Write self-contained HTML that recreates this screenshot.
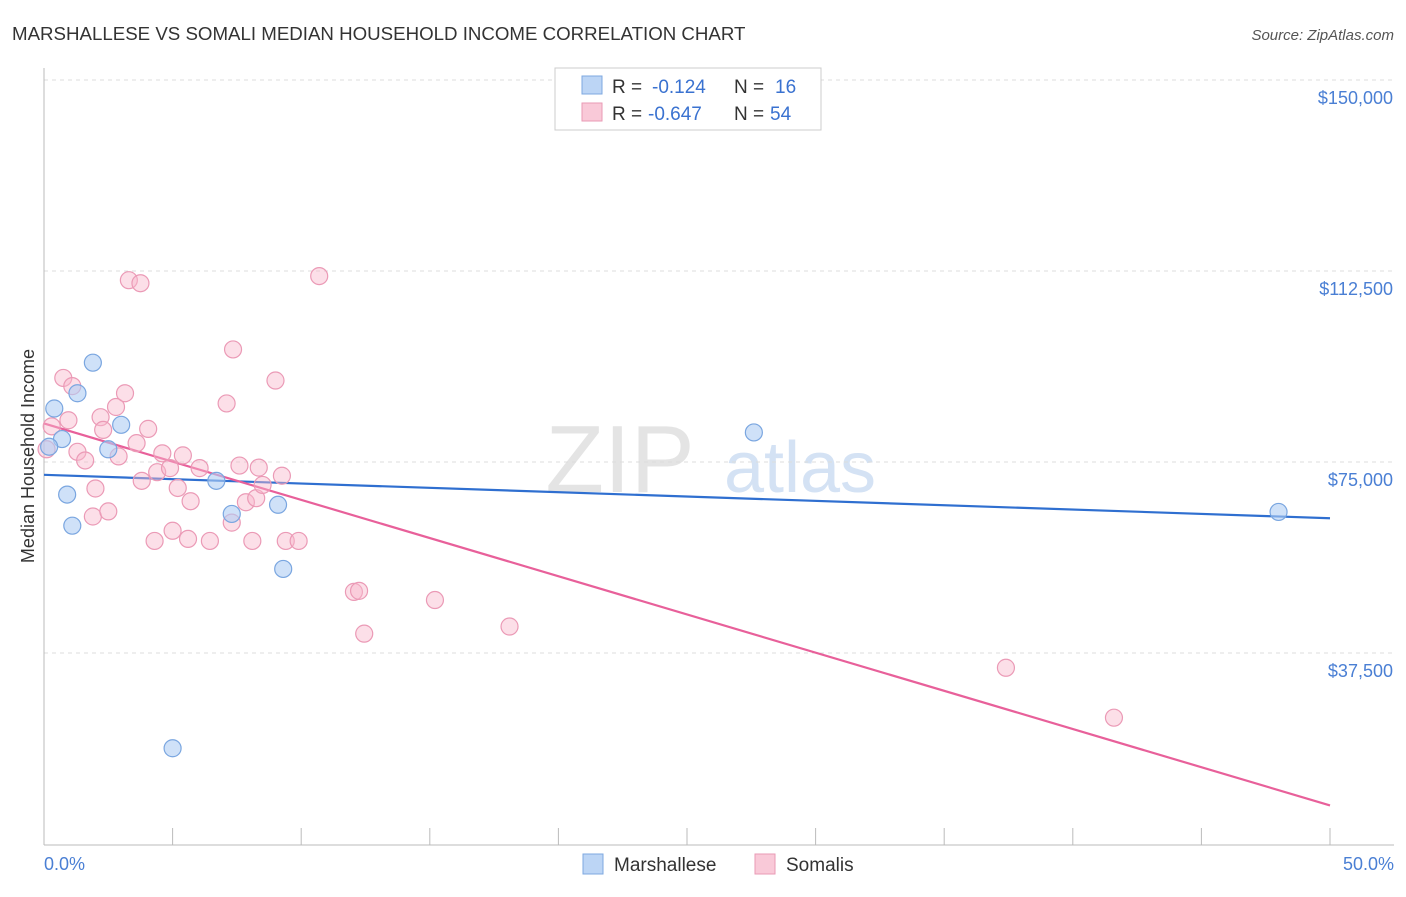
<!DOCTYPE html>
<html><head><meta charset="utf-8"><style>
body{margin:0;background:#fff;font-family:"Liberation Sans",sans-serif;}
svg text{font-family:"Liberation Sans",sans-serif;}
</style></head><body>
<svg id="chart" width="1406" height="892">
<text x="12" y="40" font-size="18.7" fill="#333">MARSHALLESE VS SOMALI MEDIAN HOUSEHOLD INCOME CORRELATION CHART</text>
<text x="1394" y="40" font-size="15" fill="#555" text-anchor="end" font-style="italic">Source: ZipAtlas.com</text>
<text x="620" y="492" font-size="96" fill="#e4e4e4" font-family="Liberation Serif" text-anchor="middle">ZIP</text>
<text x="800" y="492" font-size="72" fill="#d4e2f4" text-anchor="middle">atlas</text>
<g id="grid"></g><g id="axes"></g><g id="lines"></g><g id="pts"></g>
<text transform="translate(34,456) rotate(-90)" font-size="18" fill="#333" text-anchor="middle">Median Household Income</text>
<text x="44" y="870" font-size="18" fill="#4a7fd4">0.0%</text>
<text x="1394" y="870" font-size="18" fill="#4a7fd4" text-anchor="end">50.0%</text>
<g>
<rect x="555" y="68" width="266" height="62" fill="#fff" stroke="#ccc"/>
<rect x="582" y="76" width="20" height="18" fill="#bcd5f5" stroke="#7ea8e0"/>
<text x="612" y="93" font-size="19" fill="#333">R =</text><text x="652" y="93" font-size="19" fill="#3a72d0">-0.124</text>
<text x="734" y="93" font-size="19" fill="#333">N =</text><text x="775" y="93" font-size="19" fill="#3a72d0">16</text>
<rect x="582" y="103" width="20" height="18" fill="#f9c9d8" stroke="#e99ab5"/>
<text x="612" y="120" font-size="19" fill="#333">R =</text><text x="648" y="120" font-size="19" fill="#3a72d0">-0.647</text>
<text x="734" y="120" font-size="19" fill="#333">N =</text><text x="770" y="120" font-size="19" fill="#3a72d0">54</text>
</g>
<g>
<rect x="583" y="854" width="20" height="20" fill="#bcd5f5" stroke="#7ea8e0"/>
<text x="614" y="871" font-size="19" fill="#333">Marshallese</text>
<rect x="755" y="854" width="20" height="20" fill="#f9c9d8" stroke="#e99ab5"/>
<text x="786" y="871" font-size="19" fill="#333">Somalis</text>
</g>
</svg>
<script>
const yTicks=[37500,75000,112500,150000];
const yTickLabels=["$37,500","$75,000","$112,500","$150,000"];
const xTicks=[0,5,10,15,20,25,30,35,40,45,50];
const blueX=[0.4,1.9,1.3,0.7,0.2,3.0,2.5,0.9,1.1,6.7,7.3,9.1,9.3,5.0,27.6,48.0];
const blueY=[85500,94500,88500,79500,78000,82300,77500,68600,62500,71300,64800,66600,54000,18800,80800,65200];
const pinkX=[0.3,0.1,0.75,1.1,0.95,1.3,1.6,2.0,1.9,2.5,2.2,2.3,2.8,3.15,2.9,3.6,3.3,3.75,4.05,3.8,4.4,4.6,4.9,5.2,5.4,4.3,5.0,5.6,5.7,6.05,6.45,7.1,7.35,7.6,7.3,7.85,8.1,8.25,8.35,8.5,9.0,9.25,9.4,9.9,10.7,12.05,12.25,12.45,15.2,18.1,37.4,41.6];
const pinkY=[82000,77500,91500,89900,83200,77000,75300,69800,64300,65300,83800,81300,85800,88500,76100,78700,110700,110100,81500,71300,73000,76700,73800,69900,76300,59500,61500,59900,67300,73800,59500,86500,97100,74300,63100,67100,59500,67900,73900,70500,91000,72300,59500,59500,111500,49500,49700,41300,47900,42700,34600,24800];
const NS='http://www.w3.org/2000/svg';
const X=v=>44+v/50*1286, Y=v=>844-v/37500*191;
function mk(t,a,p){const e=document.createElementNS(NS,t);for(const k in a)e.setAttribute(k,a[k]);p.appendChild(e);return e;}
const grid=document.getElementById('grid'),axes=document.getElementById('axes'),lines=document.getElementById('lines'),pts=document.getElementById('pts');
yTicks.forEach((t,i)=>{
 const l=mk('line',{x1:44,x2:1394,y1:Y(t),y2:Y(t),stroke:'#ddd','stroke-dasharray':'4,4'},grid);
 
 
 const tx=mk('text',{x:1393,y:Y(t)+24,'font-size':18,fill:'#4a7fd4','text-anchor':'end'},grid);
 tx.textContent=yTickLabels[i];
 
 
});
const ya=mk('line',{x1:44,x2:44,y1:68,y2:845,stroke:'#bbb'},axes);


const xa=mk('line',{x1:44,x2:1394,y1:845,y2:845,stroke:'#bbb'},axes);


xTicks.forEach(t=>{
 const l=mk('line',{x1:X(t),x2:X(t),y1:828,y2:845,stroke:'#bbb'},axes);
 
 
});
function fit(xs,ys){const n=xs.length,mx=xs.reduce((a,b)=>a+b)/n,my=ys.reduce((a,b)=>a+b)/n;let sxy=0,sxx=0;xs.forEach((x,i)=>{sxy+=(x-mx)*(ys[i]-my);sxx+=(x-mx)**2});const b=sxy/sxx;return [my-b*mx,b];}
[[blueX,blueY,'#2f6fd0','marshallese-trendline'],[pinkX,pinkY,'#e8609a','somalis-trendline']].forEach(([xs,ys,c,n])=>{
 const [a,b]=fit(xs,ys);
 const l=mk('line',{x1:X(0),y1:Y(a),x2:X(50),y2:Y(a+b*50),stroke:c,'stroke-width':2.2},lines);
 
 
});
pinkX.forEach((x,i)=>{
 const c=mk('circle',{cx:X(x),cy:Y(pinkY[i]),r:8.5,fill:'rgba(248,185,205,0.45)',stroke:'#eb9ab6','stroke-width':1.2},pts);
 
 
});
blueX.forEach((x,i)=>{
 const c=mk('circle',{cx:X(x),cy:Y(blueY[i]),r:8.5,fill:'rgba(175,205,243,0.6)',stroke:'#7aa6e0','stroke-width':1.2},pts);
 
 
});
</script>
</body></html>
